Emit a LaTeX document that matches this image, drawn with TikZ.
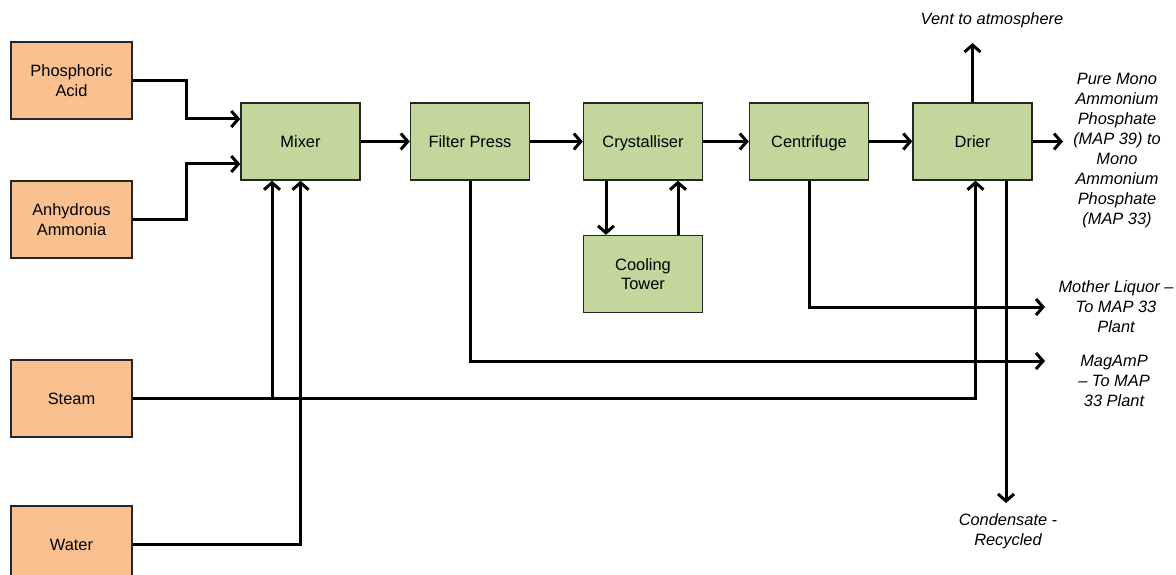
\documentclass[tikz,border=0pt]{standalone}
\usepackage{fontspec}
\setmainfont{Liberation Sans}
\usetikzlibrary{arrows.meta}
\definecolor{inorange}{HTML}{FAC090}
\definecolor{procgreen}{HTML}{C3D69B}
\begin{document}
\begin{tikzpicture}[x=1pt,y=-1pt,
  box/.style={draw=black!85,line width=1.4pt,minimum width=120pt,minimum height=77pt,inner sep=2pt,align=center,font=\fontsize{16.4}{19.5}\selectfont},
  inbox/.style={box,fill=inorange,minimum width=121pt},
  procbox/.style={box,fill=procgreen,minimum width=119pt},
  oneline/.style={text height=11.7pt,text depth=0pt},
  flow/.style={line width=3pt,-{Straight Barb[length=7pt,width=16pt]}},
  lbl/.style={align=center,font=\fontsize{16.4}{20}\selectfont\itshape,inner sep=0pt}]
\useasboundingbox (0,0) rectangle (1176,575);
\begin{scope}
\clip (0,0) rectangle (1176,575);
% inputs
\node[inbox] (phos) at (71.5,80.5) {Phosphoric\\Acid};
\node[inbox] (anh) at (71.5,219.5) {Anhydrous\\Ammonia};
\node[inbox,oneline] (steam) at (71.5,398.5) {Steam};
\node[inbox,oneline] (water) at (71.5,544.5) {Water};
% process
\node[procbox,oneline] (mixer) at (300.5,141.5) {Mixer};
\node[procbox,oneline] (filter) at (470,141.5) {Filter Press};
\node[procbox,oneline] (cryst) at (643,141.5) {Crystalliser};
\node[procbox,oneline] (centr) at (809,141.5) {Centrifuge};
\node[procbox,oneline] (drier) at (972.5,141.5) {Drier};
\node[procbox] (cool) at (643,274) {Cooling\\Tower};
% free ends
\coordinate (ventend) at (972.5,43);
\coordinate (outend) at (1063,141.5);
\coordinate (mlend) at (1045,307);
\coordinate (magend) at (1045,361);
\coordinate (condend) at (1006,503);
% labels
\node[lbl] (ventlbl) at (992,20) {Vent to atmosphere};
\node[lbl] (purelbl) at (1117,151) {Pure Mono\\Ammonium\\Phosphate\\(MAP 39) to\\Mono\\Ammonium\\Phosphate\\(MAP 33)};
\node[lbl] (mllbl) at (1116,307) {Mother Liquor --\\To MAP 33\\Plant};
\node[lbl] (maglbl) at (1114,381) {MagAmP\\-- To MAP\\33 Plant};
\node[lbl] (condlbl) at (1008,531) {Condensate -\\Recycled};
% connectors
\draw[flow] (phos.east) -- ++(54,0) |- ([yshift=22.5pt]mixer.west);
\draw[flow] (anh.east) -- ++(54,0) |- ([yshift=-22.5pt]mixer.west);
\draw[flow] (steam.east) -| ([xshift=3pt]drier.south);
\draw[flow] ([xshift=-28.5pt]mixer.south |- steam.east) -- ([xshift=-28.5pt]mixer.south);
\draw[flow] (water.east) -| (mixer.south);
\draw[flow] (mixer) -- (filter);
\draw[flow] (filter) -- (cryst);
\draw[flow] (cryst) -- (centr);
\draw[flow] (centr) -- (drier);
\draw[flow] ([xshift=-37pt]cryst.south) -- ([xshift=-37pt]cool.north);
\draw[flow] ([xshift=35pt]cool.north) -- ([xshift=35pt]cryst.south);
\draw[flow] (filter.south) |- (magend);
\draw[flow] (centr.south) |- (mlend);
\draw[flow] ([xshift=33.5pt]drier.south) -- (condend);
\draw[flow] (drier.north) -- (ventend);
\draw[flow] (drier.east) -- (outend);
\end{scope}
\end{tikzpicture}
\end{document}
